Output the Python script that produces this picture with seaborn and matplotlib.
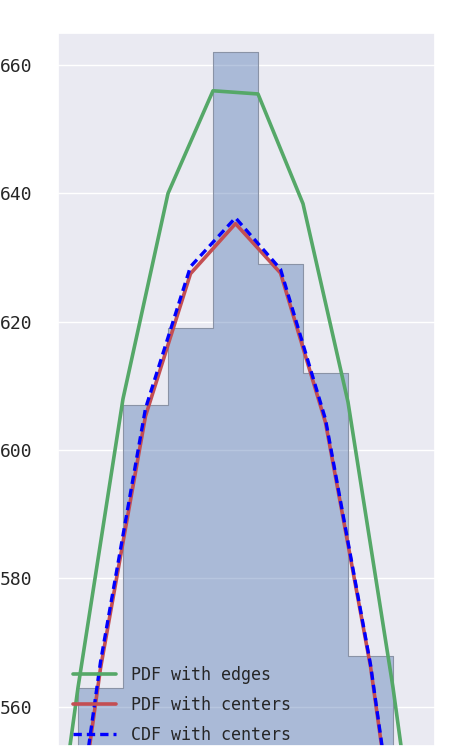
import matplotlib

matplotlib.use("Agg")

import matplotlib.pyplot as plt
import numpy as np
import seaborn as sns

# histogram (visible bins only), x in bin-width units
bin_edges = [-3.5, -2.5, -1.5, -0.5, 0.5, 1.5, 2.5, 3.5]
counts = [563, 607, 619, 662, 629, 612, 568]

# fitted curves
edge_x = [-4.5, -3.5, -2.5, -1.5, -0.5, 0.5, 1.5, 2.5, 3.5, 4.5]
pdf_edges = [512, 563, 608, 640, 656, 655.5, 638.4, 607.5, 563, 512]

center_x = [-4, -3, -2, -1, 0, 1, 2, 3, 4]
pdf_centers = [516, 566, 605.3, 627.5, 635.3, 627.6, 604.3, 566.3, 516]
cdf_centers = [517, 567, 606.5, 628.6, 636.2, 628.2, 604.8, 566.6, 517]

sns.set_theme(style="darkgrid", font="DejaVu Sans Mono")
plt.rcParams["font.family"] = ["DejaVu Sans Mono", "DejaVu Sans"]

fig = plt.figure(figsize=(4.49, 7.46), dpi=100)
ax = fig.add_axes([58 / 449, 0.0, 377 / 449, 1 - 33 / 746])

centers = (np.array(bin_edges[:-1]) + np.array(bin_edges[1:])) / 2
sns.histplot(
    x=centers,
    weights=counts,
    bins=bin_edges,
    element="step",
    color="#4C72B0",
    alpha=0.4,
    edgecolor="#8a93a6",
    linewidth=0.8,
    ax=ax,
)

ax.plot(edge_x, pdf_edges, color="#55A868", lw=2.6, label="PDF with edges")
ax.plot(center_x, pdf_centers, color="#C44E52", lw=2.6, label="PDF with centers")
ax.plot(center_x, cdf_centers, color="#0000FF", lw=2.4, ls=(0, (2.5, 1.5)),
        label="CDF with centers")

ax.set_xlim(-3.5 - 20 / 45, 3.5 + 42 / 45)
ax.set_ylim(553.9, 665.0)
ax.set_yticks([560, 580, 600, 620, 640, 660])
ax.tick_params(axis="y", labelsize=13, labelcolor="#262626", pad=12.5)
ax.set_xticks([])
ax.xaxis.grid(False)
ax.set_xlabel("")
ax.set_ylabel("")

ax.legend(loc="upper left", bbox_to_anchor=(0.0, 0.133), frameon=False,
          fontsize=12, handlelength=2.6, handletextpad=0.9, labelspacing=0.72)

fig.savefig("out.png", dpi=100)
